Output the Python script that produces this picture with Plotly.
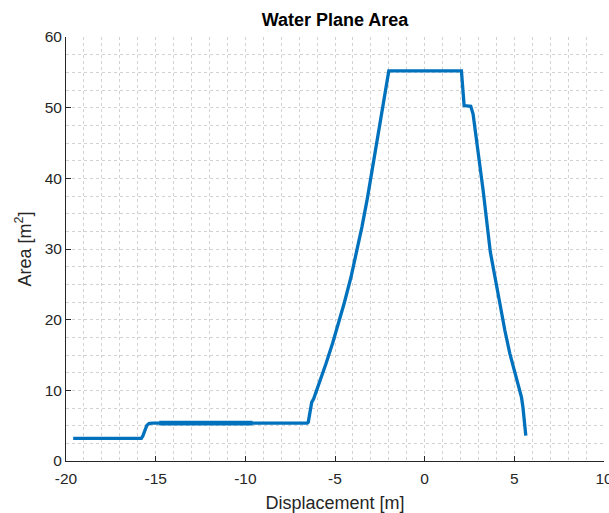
import plotly.graph_objects as go

# Water plane area vs displacement
disp = [-19.6, -15.8, -15.72, -15.63, -15.5, -15.38, -15.2, -12.0, -9.0, -6.55,
        -6.49, -6.38, -6.30, -6.19, -5.88, -5.50, -5.13, -4.80, -4.48, -4.11,
        -3.79, -3.50, -3.20, -2.0, 0.0, 2.05, 2.2, 2.57, 2.7, 3.26, 3.66, 3.91,
        4.19, 4.47, 4.75, 5.03, 5.31, 5.40, 5.48, 5.55, 5.64]
area = [3.2, 3.2, 3.5, 4.1, 5.0, 5.3, 5.35, 5.35, 5.35, 5.35,
        5.5, 7.2, 8.3, 8.8, 11.0, 13.8, 16.7, 19.5, 22.4, 26.0,
        29.5, 33.1, 37.1, 55.2, 55.2, 55.2, 50.3, 50.2, 49.1, 38.3, 29.6, 26.0,
        22.3, 18.5, 15.2, 12.4, 10.0, 9.0, 7.6, 5.8, 3.6]

# overlapping (denser) segment that appears thicker in the reference
overlap_disp = [-14.8, -9.6]
overlap_area = [5.35, 5.35]

x_ticks = [-20, -15, -10, -5, 0, 5, 10]
x_tick_text = ["-20", "-15", "-10", "-5", "0", "5", "10"]
y_ticks = [0, 10, 20, 30, 40, 50, 60]
y_tick_text = ["0", "10", "20", "30", "40", "50", "60"]

title = "Water Plane Area"
x_label = "Displacement [m]"
y_label = "Area [m<sup>2</sup>]"

color = "#0072BD"
grid_col = "#d2d2d2"
axis_col = "#262626"

fig = go.Figure()
fig.add_trace(go.Scatter(x=disp, y=area, mode="lines",
                         line=dict(color=color, width=3.3), showlegend=False))
fig.add_trace(go.Scatter(x=overlap_disp, y=overlap_area, mode="lines",
                         line=dict(color=color, width=4.8), showlegend=False))

font_family = "Liberation Sans, Arial, sans-serif"

fig.update_layout(
    width=609, height=513,
    margin=dict(l=66, r=5, t=37, b=52),
    paper_bgcolor="white", plot_bgcolor="white",
    font=dict(family=font_family, color=axis_col, size=15.5),
    title=dict(text="<b>" + title + "</b>", x=0.5, xanchor="center",
               xref="paper", y=0.961, yanchor="middle",
               font=dict(size=18, color="#000000")),
)

fig.update_xaxes(
    range=[-20, 10], tickvals=x_ticks, ticktext=x_tick_text,
    showline=True, linecolor=axis_col, linewidth=1, mirror=False,
    ticks="inside", ticklen=5, tickcolor=axis_col,
    showgrid=True, gridcolor=grid_col, griddash="3px,3px", gridwidth=1,
    minor=dict(dtick=1, tick0=0, showgrid=True, gridcolor=grid_col,
               griddash="3px,3px", ticks=""),
    zeroline=False, automargin=False,
    title=dict(text=x_label, font=dict(size=18), standoff=10),
    tickfont=dict(size=15.5), ticklabeloverflow="allow", ticklabelstandoff=3,
)
fig.update_yaxes(
    range=[0, 60], tickvals=y_ticks, ticktext=y_tick_text,
    showline=True, linecolor=axis_col, linewidth=1, mirror=False,
    ticks="inside", ticklen=5, tickcolor=axis_col,
    showgrid=True, gridcolor=grid_col, griddash="3px,3px", gridwidth=1,
    minor=dict(dtick=2.5, tick0=0, showgrid=True, gridcolor=grid_col,
               griddash="3px,3px", ticks=""),
    zeroline=False, automargin=False,
    title=dict(text=y_label, font=dict(size=18), standoff=8),
    tickfont=dict(size=15.5),
)

fig.write_html("out.html", config={"displayModeBar": False},
               post_script="document.body.style.margin='0px';")
